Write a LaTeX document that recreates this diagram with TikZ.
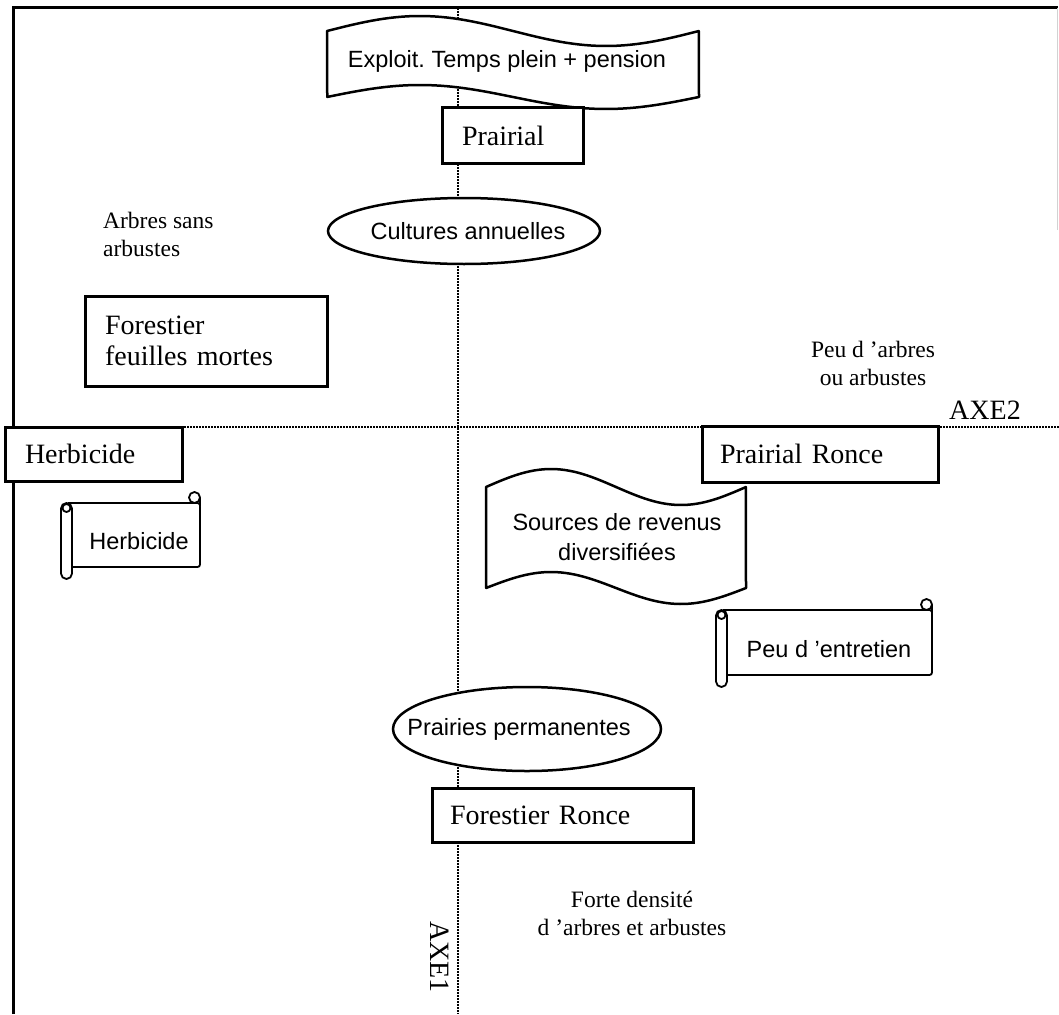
\documentclass[tikz,border=0pt]{standalone}
\usepackage{fontspec}
\setmainfont{Liberation Serif}
\newfontfamily\arialf[Ligatures=TeX]{Liberation Sans}
\usetikzlibrary{shapes.geometric}
\frenchspacing
\newcommand\myscroll[4]{%
  \filldraw[scrollline,rounded corners=2.5pt] (#1-4,#3) -- (#2,#3) -- (#2,#4) -- (#1-4,#4);
  \filldraw[scrollline] (#2-5.5,#3-5.5) circle[radius=5.5pt];
  \draw[scrollline] (#2,#3-5.5) -- (#2,#3+3);
  \filldraw[scrollline,rounded corners=5.5pt] (#1-11,#3) rectangle (#1,#4+12);
  \draw[scrollline] (#1-5.5,#3+5) circle[radius=4pt];
}
\begin{document}
\begin{tikzpicture}[x=1pt,y=-1pt,
  serifbig/.style={font=\fontsize{28}{31}\selectfont},
  serifsmall/.style={font=\fontsize{23.5}{28}\selectfont},
  sanslbl/.style={font=\arialf\fontsize{23.5}{30}\selectfont, inner sep=0pt, align=center},
  sbox/.style={draw, line width=3pt, fill=white, serifbig, align=left, inner ysep=0pt},
  ell/.style={draw, ellipse, line width=2.5pt, fill=white, inner sep=0pt},
  banner/.style={draw, line width=2.5pt, fill=white, line join=round},
  scrollline/.style={draw=black, fill=white, line width=1.8pt},
  axis/.style={line width=2pt, dash pattern=on 1.6pt off 1.4pt}]
\useasboundingbox (0,0) rectangle (1059,1014);
% frame
\draw[line width=3pt] (13,1014) -- (13,8) -- (1058,8);
\draw[gray!35, line width=1pt] (1057,8) -- (1057,230);
% axes
\coordinate (vtop) at (458,8);
\coordinate (vbot) at (458,1014);
\coordinate (hleft) at (13,427);
\coordinate (hright) at (1059,427);
\draw[axis] (vtop) -- (vbot);
\draw[axis] (hleft) -- (hright);
% banner: Exploit
\draw[banner] plot[domain=0:1,samples=60] ({327+372*\x},{31-15*sin(360*\x)})
  -- plot[domain=1:0,samples=60] ({327+372*\x},{97-12*sin(360*\x)}) -- cycle;
\node[sanslbl] (exploit) at (507,61) {Exploit. Temps plein + pension};
% Prairial
\node[sbox, text width=101pt, inner xsep=20pt, minimum height=55pt] (prairial) at (512.5,135.5) {Prairial};
% Cultures annuelles
\node[ell, minimum width=272pt, minimum height=66pt] (cultell) at (464,231) {};
\node[sanslbl] (cult) at (468,231) {Cultures annuelles};
% labels
\node[serifsmall, align=left, anchor=west, inner sep=0pt] (arbres) at (103,234) {Arbres sans\\arbustes};
\node[sbox, text width=202pt, inner xsep=20pt, minimum height=90pt] (forfeu) at (206,341) {Forestier\\feuilles mortes};
\node[serifsmall, align=center, inner sep=0pt] (peuarb) at (873,363) {Peu d 'arbres\\ou arbustes};
\node[serifbig, inner sep=0pt] (axe2) at (985,410) {AXE2};
% Herbicide box
\node[sbox, text width=137pt, inner xsep=20pt, minimum height=54pt] (herb) at (93.5,454) {Herbicide};
% Prairial Ronce
\node[sbox, text width=200pt, inner xsep=18pt, minimum height=56pt] (praironce) at (820,454) {Prairial Ronce};
% Herbicide scroll
\myscroll{72}{200}{503}{567}
\node[sanslbl] (herbs) at (139,541) {Herbicide};
% Sources banner
\draw[banner] plot[domain=0:1,samples=60] ({486+260*\x},{487-18*sin(360*\x)})
  -- plot[domain=1:0,samples=60] ({486+260*\x},{588-16*sin(360*\x)}) -- cycle;
\node[sanslbl] (sources) at (617,537) {Sources de revenus\\diversifiées};
% Peu d'entretien scroll
\myscroll{727}{932}{610}{675}
\node[sanslbl] (entretien) at (829,649) {Peu d 'entretien};
% Prairies permanentes
\node[ell, minimum width=268pt, minimum height=84pt] (prpell) at (527,729) {};
\node[sanslbl] (prp) at (519,729) {Prairies permanentes};
% Forestier Ronce
\node[sbox, text width=225pt, inner xsep=18pt, minimum height=54pt] (forronce) at (562.5,815) {Forestier Ronce};
% bottom labels
\node[serifsmall, align=center, inner sep=0pt] (forte) at (632,913) {Forte densité\\d 'arbres et arbustes};
\node[serifbig, rotate=-90, inner sep=0pt] (axe1) at (440,957) {AXE1};
\end{tikzpicture}
\end{document}
